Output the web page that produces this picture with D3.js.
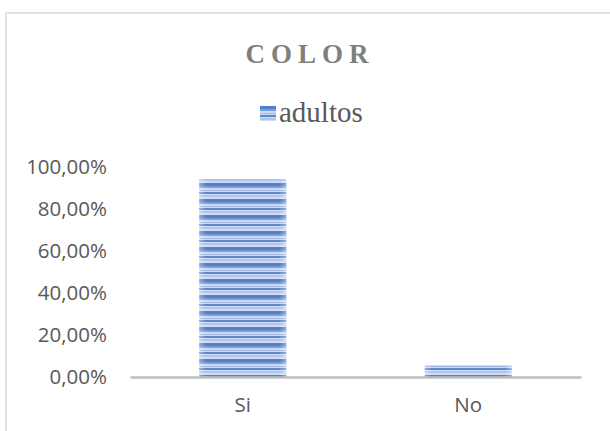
<!DOCTYPE html>
<meta charset="utf-8">
<style>
body { margin: 0; background: #fff; }
.tick text { font-family: "Open Sans", "Liberation Sans", sans-serif; font-size: 20.5px; fill: #595959; }
.title { font-family: "Liberation Serif", "DejaVu Serif", serif; font-size: 27px; font-weight: bold; fill: #7f7f7f; letter-spacing: 6px; }
.legend { font-family: "Liberation Serif", "DejaVu Serif", serif; font-size: 29px; fill: #595959; }
</style>
<body>
<svg width="610" height="431">
  <defs>
    <pattern id="stripes" patternUnits="userSpaceOnUse" width="8" height="16">
      <rect width="8" height="16" fill="#d0dbf0"/>
      <rect y="0" width="8" height="3" fill="#4f7fd0"/>
      <rect y="3" width="8" height="2" fill="#7a9ddc"/>
      <rect y="7" width="8" height="1" fill="#9fb8e6"/>
      <rect y="9" width="8" height="2" fill="#5b88d4"/>
      <rect y="12" width="8" height="2" fill="#b1c5ea"/>
    </pattern>
    <linearGradient id="edge" x1="0" x2="1" y1="0" y2="0">
      <stop offset="0" stop-color="#fff" stop-opacity="0.35"/>
      <stop offset="0.08" stop-color="#fff" stop-opacity="0"/>
      <stop offset="0.92" stop-color="#fff" stop-opacity="0"/>
      <stop offset="1" stop-color="#fff" stop-opacity="0.35"/>
    </linearGradient>
  </defs>
</svg>
<script src="https://d3js.org/d3.v7.min.js"></script>
<script>

// data
var categories = ["Si", "No"];
var adultos = [0.943, 0.057];
var yTicks = [0, 0.2, 0.4, 0.6, 0.8, 1.0];
var seriesName = "adultos";
var chartTitle = "COLOR";

var margin = {top: 167, left: 130, right: 29, bottom: 54},
    width = 610 - margin.left - margin.right,
    height = 431 - margin.top - margin.bottom;

var svg = d3.select("svg");

// outer frame
svg.append("rect")
    .attr("x", 6).attr("y", 13)
    .attr("width", 610).attr("height", 440)
    .attr("fill", "none")
    .attr("stroke", "#d9d9d9")
    .attr("stroke-width", 1.5);

svg.append("text")
    .attr("class", "title")
    .attr("x", 310).attr("y", 63)
    .attr("text-anchor", "middle")
    .text(chartTitle);

// legend
var leg = svg.append("g").attr("transform", "translate(260,106)");
leg.append("rect").attr("width", 16).attr("height", 15).attr("fill", "url(#stripes)");
leg.append("text").attr("class", "legend").attr("x", 19).attr("y", 16).text(seriesName);

var g = svg.append("g")
    .attr("transform", "translate(" + margin.left + "," + margin.top + ")");

var x = d3.scaleBand().domain(categories).range([0, width]).paddingInner(0.614).paddingOuter(0.307);
var y = d3.scaleLinear().domain([0, 1]).range([height, 0]);

var fmt = function(d) { return d3.format(".2f")(d * 100).replace(".", ",") + "%"; };

// y axis (labels only)
var yAxis = g.append("g")
    .call(d3.axisLeft(y).tickValues(yTicks).tickFormat(fmt).tickSize(0).tickPadding(23));
yAxis.select(".domain").remove();

// bars
g.selectAll(".bar")
    .data(adultos)
  .enter().append("rect")
    .attr("class", "bar")
    .attr("x", function(d, i) { return x(categories[i]); })
    .attr("y", function(d) { return y(d); })
    .attr("width", x.bandwidth())
    .attr("height", function(d) { return height - y(d); })
    .attr("fill", "url(#stripes)");

g.selectAll(".shine")
    .data(adultos)
  .enter().append("rect")
    .attr("x", function(d, i) { return x(categories[i]); })
    .attr("y", function(d) { return y(d); })
    .attr("width", x.bandwidth())
    .attr("height", function(d) { return height - y(d); })
    .attr("fill", "url(#edge)");

// x axis
var xAxis = g.append("g")
    .attr("transform", "translate(0," + height + ")")
    .call(d3.axisBottom(x).tickSize(0).tickPadding(20));
xAxis.select(".domain")
    .attr("stroke", "#bfbfbf")
    .attr("stroke-width", 2.5);

</script>
</body>
